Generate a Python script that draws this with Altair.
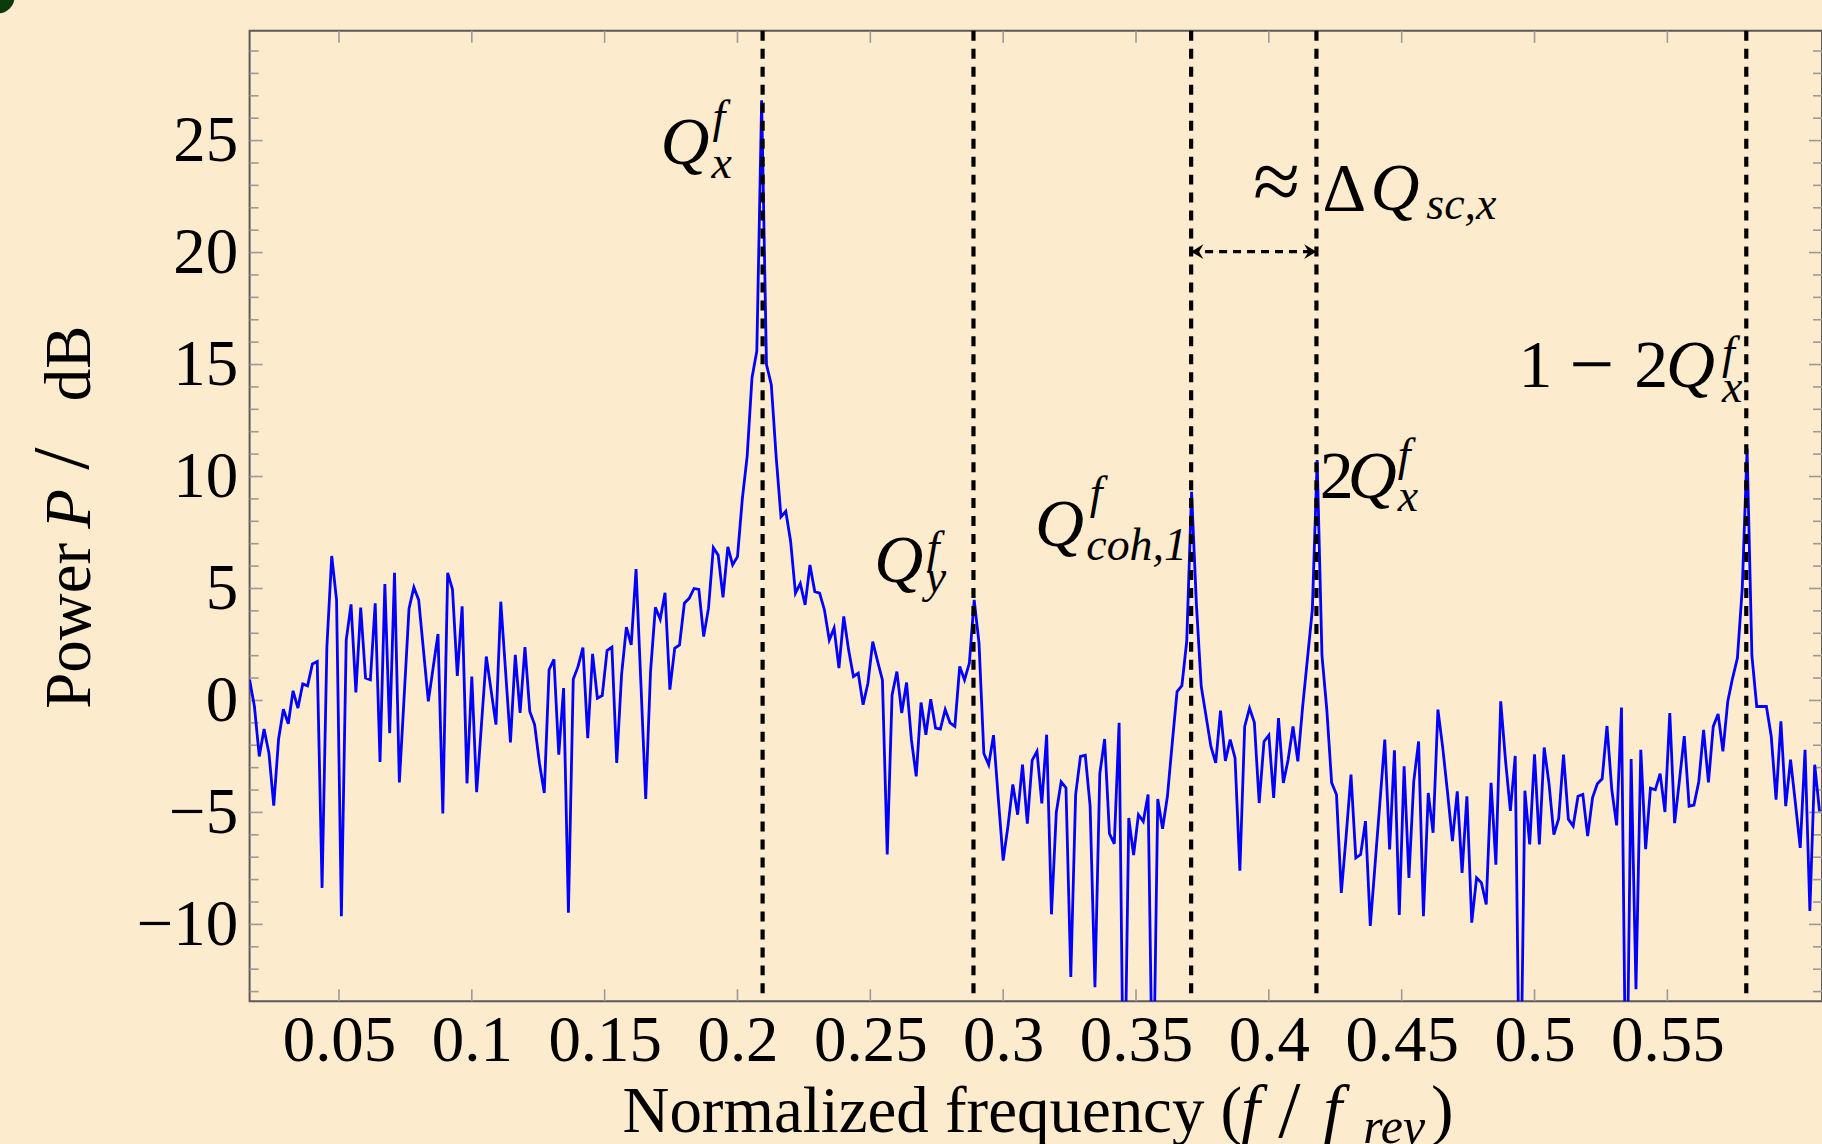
import altair as alt
import pandas as pd

# ---------------- data ----------------
N_FFT = 550          # frequency bin = k / N_FFT
K0 = 9               # first bin shown
POWER_DB = [
    0.92, -0.27, -2.5, -1.28, -2.35, -4.7, -1.72, -0.39, -1.04, 0.43,
    -0.34, 0.74, 0.65, 1.63, 1.74, -8.37, 2.41, 6.45, 4.49, -9.63,
    2.7, 4.29, 0.36, 4.15, 1.0, 0.92, 4.34, -2.75, 5.2, -1.46,
    5.7, -3.66, 0.2, 4.1, 5.05, 4.49, 2.22, -0.04, 1.47, 2.97,
    -5.05, 5.7, 4.96, 1.1, 4.2, -3.7, 1.07, -4.1, -1.07, 1.96,
    0.44, -1.08, 4.41, 1.27, -1.87, 2.04, -0.56, 2.38, -0.49, -1.08,
    -2.8, -4.13, 1.37, 1.84, -2.42, 0.55, -9.48, 0.95, 1.52, 2.36,
    -1.68, 2.08, 0.1, 0.22, 2.23, 2.38, -2.79, 1.14, 3.27, 2.48,
    5.87, 0.77, -4.4, 1.29, 4.16, 3.63, 4.81, 0.48, 2.33, 2.48,
    4.34, 4.56, 5.0, 4.96, 2.85, 4.12, 6.82, 6.49, 4.6, 6.86,
    6.05, 6.42, 9.0, 10.9, 14.4, 15.6, 26.8, 15.0, 14.1, 10.9,
    8.2, 8.45, 7.1, 4.79, 5.23, 4.27, 6.05, 4.86, 4.79, 4.04,
    2.7, 3.23, 1.44, 3.75, 2.26, 1.07, 1.22, -0.19, 0.77, 2.63,
    1.75, 0.92, -6.88, 0.25, 1.29, -0.56, 0.8, -1.75, -3.39, -0.09,
    -1.53, 0.06, -1.23, -1.28, -0.41, -1.0, -1.16, 1.52, 0.92, 1.67,
    4.49, 2.56, -2.37, -2.87, -1.55, -4.4, -7.15, -5.6, -3.75, -5.1,
    -2.87, -5.5, -2.68, -2.27, -4.6, -1.53, -9.55, -5.0, -3.63, -3.9,
    -12.35, -4.2, -2.5, -2.45, -4.72, -12.8, -3.28, -1.72, -5.95, -6.4,
    -1.0, -20.0, -5.25, -6.9, -5.1, -5.4, -4.2, -19.0, -4.4, -5.73,
    -4.28, -1.9, 0.4, 0.66, 2.65, 9.32, 4.3, 0.63, -0.7, -2.05,
    -2.79, -0.45, -2.7, -1.75, -2.57, -7.6, -1.16, -0.34, -0.99, -4.58,
    -1.83, -1.55, -4.35, -0.79, -3.68, -2.64, -1.16, -2.72, -0.27, 1.89,
    4.04, 10.73, 2.0, -0.42, -3.68, -4.2, -8.59, -6.06, -3.31, -7.03,
    -6.88, -5.39, -10.07, -7.3, -4.53, -1.75, -6.65, -2.23, -9.58, -2.94,
    -7.92, -3.61, -1.83, -9.63, -4.13, -5.91, -0.41, -2.12, -4.13, -6.28,
    -4.06, -7.7, -4.28, -9.92, -7.92, -8.14, -9.11, -3.68, -7.33, -0.04,
    -2.7, -4.93, -2.48, -20.0, -4.03, -6.43, -2.4, -6.43, -2.1, -3.72,
    -5.99, -5.28, -2.42, -5.3, -5.61, -4.28, -4.2, -6.06, -4.35, -3.72,
    -3.5, -1.14, -4.0, -5.58, -0.32, -20.0, -2.62, -12.9, -2.2, -6.64,
    -3.92, -3.99, -3.27, -4.98, -0.56, -5.48, -3.57, -1.59, -4.72, -4.67,
    -3.63, -1.31, -3.66, -1.16, -0.6, -2.27, -0.04, 1.0, 1.89, 5.0,
    11.25, 2.0, -0.27, -0.27, -0.27, -1.6, -4.43, -0.93, -4.72, -2.64,
    -4.58, -6.58, -2.2, -9.4, -2.87, -4.95,
]
FREQ = [(K0 + i) / N_FFT for i in range(len(POWER_DB))]

VLINE_F = [0.20945, 0.28882, 0.37075, 0.41791, 0.57970]
ARROW_F = [0.37075, 0.41791]
ARROW_DB = 20.04

X_TICKS = [0.05, 0.1, 0.15, 0.2, 0.25, 0.3, 0.35, 0.4, 0.45, 0.5, 0.55]
Y_TICKS = [-10, -5, 0, 5, 10, 15, 20, 25]
Y_MINOR = [v for v in range(-13, 30) if v % 5 != 0]

XMIN, XMAX = 9 / 550, 0.6082
YMIN, YMAX = -13.43, 29.90

# annotation pieces (text, freq, dB)
ITALIC_MAIN = [("Q", 0.17103, 23.97), ("Q", 0.25147, 5.305), ("Q", 0.31195, 6.90),
               ("Q", 0.42970, 9.03), ("Q", 0.54950, 14.0), ("Q", 0.43822, 21.92),
               ("f", 0.38950, -19.27), ("f", 0.42050, -19.27)]
ITALIC_SCRIPT = [("f", 0.19057, 25.4), ("x", 0.19020, 23.35),
                 ("f", 0.27120, 6.15), ("y", 0.27090, 4.86),
                 ("f", 0.33262, 8.59), ("coh,1", 0.33127, 6.27),
                 ("f", 0.44849, 10.3), ("x", 0.44849, 8.46),
                 ("f", 0.57052, 14.83), ("x", 0.57052, 13.33),
                 ("sc,x", 0.45927, 21.5)]
ITALIC_SUB_TITLE = [("rev", 0.43550, -19.75)]
ROMAN_MAIN = [("2", 0.41918, 9.03), ("1", 0.49400, 14.0),
              ("2", 0.53750, 14.0), ("\u0394", 0.42018, 21.92), (")", 0.46100, -19.27)]
MINUS = [("\u2212", 0.51308, 13.8)]
ROMAN_TITLE = [("Normalized frequency (", 0.15674, -19.27)]
SLASH_TITLE = [("/", 0.40350, -19.5)]
APPROX = [("\u2248", 0.39400, 21.92)]
YTITLE_ROMAN = [("Power", -0.0437, -0.37), ("dB", -0.0437, 13.36)]
YTITLE_SLASH = [("/", -0.0445, 10.3)]
YTITLE_ITALIC = [("P", -0.0437, 7.67)]

# ---------------- geometry ----------------
PX_PER_F = 2661.0
PX_PER_DB = 22.43
W = (XMAX - XMIN) * PX_PER_F
H = (YMAX - YMIN) * PX_PER_DB

FONT = "Liberation Serif"
MAIN_SIZE = 68
TITLE_SIZE = 65
SCRIPT_SIZE = 46
TICK_COLOR = "#9a9a9a"

xs = alt.Scale(domain=[XMIN, XMAX], nice=False, zero=False)
ys = alt.Scale(domain=[YMIN, YMAX], nice=False, zero=False)
xaxis = alt.Axis(values=X_TICKS, format=".2~f", ticks=False, domain=False, grid=False,
                 title=None, labelFont=FONT, labelFontSize=65, labelColor="black",
                 labelPadding=8, labelFlush=False)
yaxis = alt.Axis(values=Y_TICKS, ticks=False, domain=False, grid=False, title=None,
                 labelFont=FONT, labelFontSize=65, labelColor="black", labelPadding=12)


def X(field="f"):
    return alt.X(f"{field}:Q", scale=xs, axis=xaxis)


def Y(field="p"):
    return alt.Y(f"{field}:Q", scale=ys, axis=yaxis)


line_df = pd.DataFrame({"f": FREQ, "p": POWER_DB})
spectrum = alt.Chart(line_df).mark_line(color="#0000ff", strokeWidth=2.8, clip=True).encode(
    x=X(), y=Y())

vl_df = pd.DataFrame({"f": VLINE_F})
vlines = alt.Chart(vl_df).mark_rule(color="black", strokeWidth=4.2, strokeDash=[10, 8]).encode(x=X())

arr_df = pd.DataFrame({"f": [ARROW_F[0]], "f2": [ARROW_F[1]], "p": [ARROW_DB]})
arrow = alt.Chart(arr_df).mark_rule(color="black", strokeWidth=3.4, strokeDash=[8, 6]).encode(
    x=X(), x2="f2:Q", y=Y())
head_l = alt.Chart(pd.DataFrame({"f": [ARROW_F[0]], "p": [ARROW_DB]})).mark_point(
    shape="M0,0 L1,-0.6 L0.65,0 L1,0.6 Z", filled=True, color="black", size=600, opacity=1
).encode(x=X(), y=Y())
head_r = alt.Chart(pd.DataFrame({"f": [ARROW_F[1]], "p": [ARROW_DB]})).mark_point(
    shape="M0,0 L-1,-0.6 L-0.65,0 L-1,0.6 Z", filled=True, color="black", size=600, opacity=1
).encode(x=X(), y=Y())


def pieces(rows, size):
    return pd.DataFrame({"t": [r[0] for r in rows], "f": [r[1] for r in rows],
                         "p": [r[2] for r in rows], "s": [size] * len(rows)})


def text_layer(df, italic=False, angle=0):
    kw = dict(font=FONT, align="left", baseline="alphabetic", color="black")
    if italic:
        kw["fontStyle"] = "italic"
    if angle:
        kw["angle"] = angle
    return alt.Chart(df).mark_text(**kw).encode(
        x=X(), y=Y(), text="t:N", size=alt.Size("s:Q", scale=None, legend=None))


italic_txt = text_layer(pd.concat([pieces(ITALIC_MAIN, MAIN_SIZE),
                                   pieces(ITALIC_SCRIPT, SCRIPT_SIZE),
                                   pieces(ITALIC_SUB_TITLE, 50)]), italic=True)
roman_txt = text_layer(pd.concat([pieces(ROMAN_MAIN, MAIN_SIZE),
                                  pieces(MINUS, 80),
                                  pieces(ROMAN_TITLE, TITLE_SIZE),
                                  pieces(SLASH_TITLE, 80),
                                  pieces(APPROX, 86)]))
ytitle_r = text_layer(pd.concat([pieces(YTITLE_ROMAN, TITLE_SIZE),
                                 pieces(YTITLE_SLASH, 80)]), angle=270)
ytitle_i = text_layer(pieces(YTITLE_ITALIC, TITLE_SIZE), italic=True, angle=270)

# inward ticks on all four sides
xt = pd.DataFrame({"f": X_TICKS})
yt = pd.DataFrame({"p": Y_TICKS})
ym = pd.DataFrame({"p": Y_MINOR})
tick_kw = dict(color=TICK_COLOR, strokeWidth=1.6)
t_bottom = alt.Chart(xt).mark_rule(**tick_kw).encode(x=X(), y=alt.value(H), y2=alt.value(H - 12))
t_top = alt.Chart(xt).mark_rule(**tick_kw).encode(x=X(), y=alt.value(0), y2=alt.value(12))
t_left = alt.Chart(yt).mark_rule(**tick_kw).encode(y=Y(), x=alt.value(0), x2=alt.value(13))
t_right = alt.Chart(yt).mark_rule(**tick_kw).encode(y=Y(), x=alt.value(W), x2=alt.value(W - 13))
m_left = alt.Chart(ym).mark_rule(**tick_kw).encode(y=Y(), x=alt.value(0), x2=alt.value(9))
m_right = alt.Chart(ym).mark_rule(**tick_kw).encode(y=Y(), x=alt.value(W), x2=alt.value(W - 9))

# small dark-green corner blob of the original slide
blob = alt.Chart(pd.DataFrame({"k": [0]})).mark_point(
    shape="circle", filled=True, color="#0b3a0b", opacity=1, size=1100).encode(
    x=alt.value(-252), y=alt.value(-34))

chart = alt.layer(
    t_bottom, t_top, t_left, t_right, m_left, m_right,
    spectrum, vlines, arrow, head_l, head_r,
    italic_txt, roman_txt, ytitle_r, ytitle_i, blob,
).properties(
    width=W, height=H,
    padding={"left": 250, "top": 30, "right": 0, "bottom": 142},
    autosize=alt.AutoSizeParams(type="none"),
).configure(background="#FDEBCD").configure_view(stroke="#5a5a5a", strokeWidth=2)

chart.save("out.html", embed_options={"renderer": "svg", "actions": False})
